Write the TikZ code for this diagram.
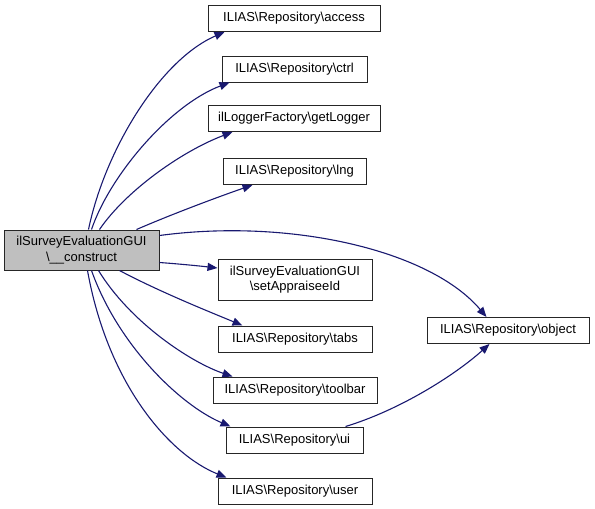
\documentclass[tikz,border=0pt]{standalone}
\usepackage{fontspec}
\setmainfont{Liberation Sans}
\usetikzlibrary{arrows.meta}
\definecolor{edgeblue}{HTML}{191970}
\begin{document}
\begin{tikzpicture}[x=1pt,y=-1pt,
  box/.style={draw=black!85, line width=1pt, fill=white, inner sep=0pt,
    minimum height=26pt, align=center, font=\fontsize{13}{15.5}\selectfont},
  edge/.style={draw=edgeblue, line width=1.1pt,
    -{Triangle[length=10pt,width=8pt,fill=edgeblue]}}]
\useasboundingbox (0,0) rectangle (595,509);

\node[box, fill=black!25, minimum width=155pt, minimum height=40pt] (main) at (81.5,250)
  {ilSurveyEvaluationGUI\\\textbackslash\_\_construct};
\node[box, minimum width=172pt] (access) at (294,18.5) {ILIAS\textbackslash Repository\textbackslash access};
\node[box, minimum width=145pt] (ctrl) at (294.5,69) {ILIAS\textbackslash Repository\textbackslash ctrl};
\node[box, minimum width=172pt] (logger) at (294,118.5) {ilLoggerFactory\textbackslash getLogger};
\node[box, minimum width=143pt] (lng) at (294.5,171.5) {ILIAS\textbackslash Repository\textbackslash lng};
\node[box, minimum width=154pt, minimum height=41pt] (appr) at (295,279.5)
  {ilSurveyEvaluationGUI\\\textbackslash setAppraiseeId};
\node[box, minimum width=154pt] (tabs) at (295,339) {ILIAS\textbackslash Repository\textbackslash tabs};
\node[box, minimum width=164pt] (toolbar) at (295,390) {ILIAS\textbackslash Repository\textbackslash toolbar};
\node[box, minimum width=137pt] (ui) at (294.5,440) {ILIAS\textbackslash Repository\textbackslash ui};
\node[box, minimum width=154pt] (user) at (295,491) {ILIAS\textbackslash Repository\textbackslash user};
\node[box, minimum width=162pt] (object) at (508,330.5) {ILIAS\textbackslash Repository\textbackslash object};

\draw[edge] ([xshift=85pt]main.north west) .. controls (105,150) and (160,60) .. ([xshift=17pt]access.south west);
\draw[edge] ([xshift=88pt]main.north west) .. controls (110,175) and (170,105) .. ([xshift=8pt]ctrl.south west);
\draw[edge] ([xshift=96pt]main.north west) .. controls (125,192) and (180,152) .. ([xshift=25pt]logger.south west);
\draw[edge] ([xshift=133pt]main.north west) .. controls (170,215) and (215,198) .. ([xshift=30pt]lng.south west);
\draw[edge] ([yshift=-6pt]main.north east) .. controls (290,218) and (430,250) .. ([xshift=60pt]object.north west);
\draw[edge] ([yshift=8pt]main.south east) .. controls (180,264) and (200,266) .. ([yshift=11.5pt]appr.west);
\draw[edge] ([xshift=116pt]main.south west) .. controls (160,292) and (210,312) .. ([xshift=25pt]tabs.north west);
\draw[edge] ([xshift=95pt]main.south west) .. controls (130,322) and (190,362) .. ([xshift=20pt]toolbar.north west);
\draw[edge] ([xshift=88pt]main.south west) .. controls (118,345) and (180,405) .. ([xshift=5pt]ui.north west);
\draw[edge] ([xshift=84pt]main.south west) .. controls (108,385) and (170,455) .. ([xshift=9pt]user.north west);
\draw[edge] ([xshift=-18pt]ui.north east) .. controls (400,410) and (455,375) .. ([xshift=63pt]object.south west);
\end{tikzpicture}
\end{document}
